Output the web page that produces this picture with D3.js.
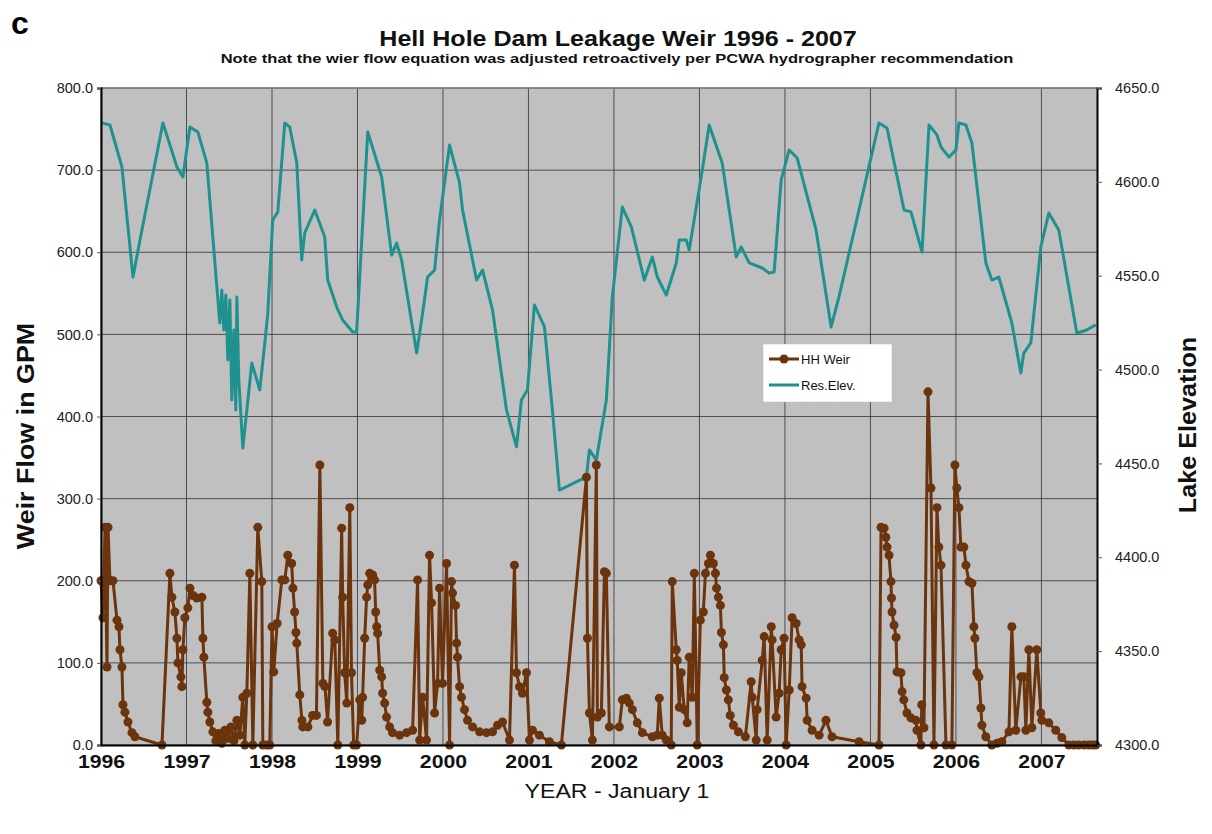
<!DOCTYPE html>
<html>
<head>
<meta charset="utf-8">
<style>
  body { margin: 0; background: #fff; }
  svg text { font-family: Arial, "Liberation Sans", sans-serif; }
</style>
</head>
<body>
<div id="chart"></div>
<script src="https://d3js.org/d3.v7.min.js"></script>
<script>
// year ticks
var years = d3.range(1996, 2008);
var flowTicks = d3.range(0, 801, 100);
var elevTicks = d3.range(4300, 4651, 50);

// HH Weir (GPM) - decimal year / value
var weirYear = [1996.000,1996.023,1996.047,1996.070,1996.082,1996.105,1996.140,1996.187,1996.210,1996.222,1996.245,1996.257,1996.280,1996.315,1996.362,1996.397,1996.713,
  1996.806,1996.829,1996.864,1996.888,1996.900,1996.935,1996.946,1996.958,1996.981,1997.016,1997.040,1997.075,1997.121,1997.180,1997.192,1997.203,1997.238,1997.250,1997.273,1997.308,
  1997.343,1997.378,1997.413,1997.449,1997.484,1997.519,1997.554,1997.589,1997.624,1997.659,1997.682,1997.706,1997.741,1997.776,1997.834,1997.881,1997.893,1997.939,1997.974,
  1998.000,1998.021,1998.060,1998.115,1998.150,1998.185,1998.230,1998.245,1998.265,1998.280,1998.290,1998.325,1998.350,1998.360,1998.420,1998.475,1998.520,1998.560,1998.595,1998.620,1998.650,1998.710,1998.735,1998.770,1998.815,1998.827,1998.850,1998.875,1998.910,1998.930,1998.955,1998.990,
  1999.026,1999.050,1999.060,1999.084,1999.107,1999.120,1999.143,1999.178,1999.200,1999.213,1999.225,1999.236,1999.260,1999.283,1999.294,1999.318,1999.340,1999.376,1999.410,1999.493,1999.575,1999.645,1999.703,1999.727,1999.762,1999.808,1999.843,1999.867,1999.902,1999.937,1999.960,1999.995,
  2000.042,2000.077,2000.100,2000.112,2000.147,2000.159,2000.170,2000.194,2000.217,2000.252,2000.287,2000.346,2000.428,2000.509,2000.580,2000.638,2000.696,2000.778,2000.836,2000.860,2000.895,2000.930,2000.977,
  2001.012,2001.047,2001.128,2001.245,2001.385,2001.678,2001.690,2001.713,2001.748,2001.794,2001.806,2001.853,2001.888,2001.911,2001.946,
  2002.063,2002.098,2002.145,2002.180,2002.215,2002.273,2002.332,2002.449,2002.507,2002.530,2002.565,2002.612,2002.670,2002.682,2002.729,2002.740,2002.764,2002.787,2002.822,2002.857,2002.880,2002.916,2002.940,2002.974,
  2003.010,2003.045,2003.070,2003.105,2003.128,2003.163,2003.187,2003.200,2003.222,2003.245,2003.257,2003.280,2003.290,2003.315,2003.338,2003.360,2003.397,2003.455,2003.537,2003.605,2003.617,2003.664,2003.675,2003.734,2003.757,2003.792,2003.840,2003.850,2003.897,2003.932,2003.956,2003.990,
  2004.014,2004.050,2004.084,2004.131,2004.166,2004.190,2004.200,2004.248,2004.260,2004.318,2004.400,2004.480,2004.551,2004.867,
  2005.100,2005.124,2005.160,2005.180,2005.194,2005.217,2005.240,2005.246,2005.252,2005.276,2005.300,2005.310,2005.357,2005.370,2005.390,2005.427,2005.474,2005.533,2005.544,2005.590,2005.600,2005.626,2005.673,2005.708,2005.743,2005.778,2005.800,2005.825,2005.883,2005.953,2005.988,
  2006.010,2006.035,2006.058,2006.093,2006.117,2006.152,2006.187,2006.210,2006.222,2006.245,2006.270,2006.292,2006.304,2006.350,2006.420,2006.480,2006.537,2006.620,2006.654,2006.700,2006.760,2006.794,2006.818,2006.853,2006.888,2006.946,2006.993,
  2007.005,2007.086,2007.168,2007.238,2007.320,2007.380,2007.437,2007.500,2007.553,2007.600,2007.635];
var weirFlow = [200,155,265,95,265,200,200,152,144,116,95,49,40,28,15,10,0,
  209,180,162,130,100,83,71,116,155,167,191,182,179,180,130,107,52,40,28,16,
  5,14,2,18,8,22,5,30,12,58,0,63,209,0,265,199,0,0,0,
  144,89,148,201,201,231,221,191,162,137,124,61,30,22,22,36,36,341,75,71,28,136,128,0,264,180,88,51,289,88,0,0,
  55,30,58,130,180,195,209,207,201,162,144,136,91,83,63,51,34,22,15,12,15,18,201,6,58,6,231,173,39,75,191,75,
  221,0,199,185,170,124,107,71,58,43,30,22,16,15,16,24,28,6,219,88,71,63,88,
  6,18,12,4,0,326,130,39,6,341,34,39,211,209,22,
  22,55,57,51,43,27,15,10,12,57,12,6,0,199,116,103,46,88,43,27,107,58,209,0,
  152,162,209,221,231,221,209,191,180,170,137,122,82,67,55,36,24,16,10,77,58,6,43,103,132,6,144,128,34,63,116,130,
  0,67,155,148,128,122,71,57,30,18,12,30,10,4,
  0,265,264,253,241,231,199,179,162,146,131,89,88,65,55,39,33,30,18,0,49,21,430,313,0,289,241,219,0,0,341,
  313,289,241,241,219,199,197,144,130,88,83,45,24,10,0,2,4,16,144,18,83,83,18,116,21,116,39,
  30,27,18,9,0,0,0,0,0,0,0];

// Res.Elev. (ft) - decimal year / value
var elevYear = [1996.008,1996.105,1996.245,1996.374,1996.456,1996.724,1996.888,1996.958,1997.040,1997.133,1997.238,1997.355,1997.390,1997.413,1997.437,1997.460,1997.484,1997.507,1997.530,1997.554,1997.577,1997.589,1997.612,1997.659,
  1997.764,1997.857,1997.916,1997.951,1998.009,1998.068,1998.150,1998.208,1998.290,1998.348,1998.383,1998.500,1998.617,1998.652,1998.757,1998.827,1998.944,1998.990,
  1999.050,1999.120,1999.283,1999.400,1999.458,1999.516,1999.692,1999.762,1999.820,1999.902,1999.960,2000.077,2000.194,2000.229,2000.393,2000.463,2000.580,2000.743,2000.860,2000.918,2000.988,
  2001.070,2001.187,2001.280,2001.362,2001.678,2001.713,2001.794,2001.911,2001.981,2002.098,2002.203,2002.355,2002.449,2002.507,2002.612,2002.729,2002.764,2002.846,2002.880,2002.963,
  2003.033,2003.114,2003.266,2003.430,2003.488,2003.582,2003.734,2003.815,2003.874,2003.956,2004.049,2004.143,2004.364,2004.540,2004.632,2004.866,
  2005.100,2005.194,2005.393,2005.474,2005.603,2005.685,2005.778,2005.825,2005.918,2006.000,2006.035,2006.117,2006.187,2006.350,2006.420,2006.502,2006.654,2006.759,2006.794,2006.876,2006.993,
  2007.086,2007.203,2007.414,2007.530,2007.635];
var elevLevel = [4631.4,4630.3,4607.9,4549.3,4569.0,4631.4,4607.9,4602.6,4629.2,4626.6,4610.0,4544.0,4524.8,4542.4,4521.1,4539.7,4505.1,4537.0,4483.8,4521.1,4478.5,4538.7,4494.5,4458.2,
  4503.5,4489.1,4514.2,4530.1,4579.7,4584.0,4631.4,4629.2,4610.0,4558.4,4572.8,4585.0,4570.6,4547.7,4533.3,4526.4,4520.0,4520.0,
  4569.0,4626.6,4602.6,4561.0,4567.4,4558.4,4508.8,4530.1,4549.3,4553.0,4579.7,4619.6,4599.4,4585.0,4547.7,4553.0,4531.7,4478.5,4458.8,4483.8,4489.1,
  4534.4,4522.7,4478.5,4435.8,4442.8,4457.2,4451.8,4483.8,4538.7,4586.6,4576.0,4547.7,4560.0,4549.3,4539.7,4556.8,4569.0,4569.0,4563.7,4586.6,
  4606.3,4630.3,4610.0,4560.0,4565.3,4556.8,4554.1,4551.4,4552.0,4601.0,4617.0,4612.7,4574.4,4522.7,4538.7,4585.0,
  4631.4,4628.7,4585.0,4584.0,4562.6,4630.3,4625.0,4618.6,4613.2,4617.0,4631.4,4630.3,4620.7,4556.8,4547.7,4549.3,4524.8,4498.2,4508.8,4514.2,4565.3,
  4583.4,4574.4,4519.5,4521.1,4523.8];

var W = 1212, H = 834;
var margin = {top: 88, right: 115, bottom: 89, left: 101};
var width = W - margin.left - margin.right,
    height = H - margin.top - margin.bottom;

var brown = "#6b340c", teal = "#1f9290";

var svg = d3.select("#chart").append("svg")
  .attr("width", W).attr("height", H);

var g = svg.append("g")
  .attr("transform", "translate(" + margin.left + "," + margin.top + ")");

var x = d3.scaleLinear().domain([1996, 2007.65]).range([0, width]);
var yL = d3.scaleLinear().domain([0, 800]).range([height, 0]);
var yR = d3.scaleLinear().domain([4300, 4650]).range([height, 0]);

// plot background
g.append("rect")
  .attr("width", width).attr("height", height)
  .style("fill", "#c0c0c0");

// gridlines
g.append("g").selectAll("line").data(flowTicks).enter().append("line")
  .attr("x1", 0).attr("x2", width)
  .attr("y1", function(d) { return yL(d); })
  .attr("y2", function(d) { return yL(d); })
  .style("stroke", "#333").style("stroke-width", 1).style("opacity", 0.8);

g.append("g").selectAll("line").data(years).enter().append("line")
  .attr("y1", 0).attr("y2", height)
  .attr("x1", function(d) { return x(d); })
  .attr("x2", function(d) { return x(d); })
  .style("stroke", "#333").style("stroke-width", 1).style("opacity", 0.8);

// top border
g.append("line").attr("x1", 0).attr("x2", width).attr("y1", 0).attr("y2", 0)
  .style("stroke", "#808080").style("stroke-width", 1.5);

// elevation line
var elevData = elevYear.map(function(d, i) { return {t: d, v: elevLevel[i]}; });
g.append("path")
  .datum(elevData)
  .attr("d", d3.line().x(function(d) { return x(d.t); }).y(function(d) { return yR(d.v); }))
  .style("fill", "none").style("stroke", teal).style("stroke-width", 3)
  .style("stroke-linejoin", "round");

// weir line + markers
var weirData = weirYear.map(function(d, i) { return {t: d, v: weirFlow[i]}; });
g.append("path")
  .datum(weirData)
  .attr("d", d3.line().x(function(d) { return x(d.t); }).y(function(d) { return yL(d.v); }))
  .style("fill", "none").style("stroke", brown).style("stroke-width", 3)
  .style("stroke-linejoin", "round");

g.append("g").selectAll("circle").data(weirData).enter().append("circle")
  .attr("cx", function(d) { return x(d.t); })
  .attr("cy", function(d) { return yL(d.v); })
  .attr("r", 4.5)
  .style("fill", brown);

// axes
var leftAxis = g.append("g")
  .call(d3.axisLeft(yL).tickValues(flowTicks).tickFormat(d3.format(".1f")).tickSize(4).tickPadding(4));
var rightAxis = g.append("g")
  .attr("transform", "translate(" + width + ",0)")
  .call(d3.axisRight(yR).tickValues(elevTicks).tickFormat(d3.format(".1f")).tickSize(5).tickPadding(13));
var bottomAxis = g.append("g")
  .attr("transform", "translate(0," + height + ")")
  .call(d3.axisBottom(x).tickValues(years).tickFormat(d3.format("d")).tickSize(0).tickPadding(10));

[leftAxis, rightAxis, bottomAxis].forEach(function(a) {
  a.select(".domain").style("stroke", "#000").style("stroke-width", 2);
  a.selectAll(".tick line").style("stroke", "#555");
});
leftAxis.selectAll("text").style("font-size", "14.5px").style("fill", "#222");
rightAxis.selectAll("text").style("font-size", "14.5px").style("fill", "#222");
bottomAxis.selectAll("text")
  .style("font-size", "18px").style("font-weight", "bold").style("fill", "#111")
  .attr("transform", "scale(1.18,1)");

// legend
var lg = g.append("g").attr("transform", "translate(" + (763 - margin.left) + "," + (344 - margin.top) + ")");
lg.append("rect").attr("width", 129).attr("height", 58)
  .style("fill", "#fff").style("stroke", "#bbb").style("stroke-width", 0.5);
lg.append("line").attr("x1", 6).attr("x2", 36).attr("y1", 15).attr("y2", 15)
  .style("stroke", brown).style("stroke-width", 3);
lg.append("circle").attr("cx", 21).attr("cy", 15).attr("r", 4.5).style("fill", brown);
lg.append("text").attr("x", 38).attr("y", 20).text("HH Weir")
  .style("font-size", "13px").style("fill", "#111");
lg.append("line").attr("x1", 6).attr("x2", 36).attr("y1", 41).attr("y2", 41)
  .style("stroke", teal).style("stroke-width", 3);
lg.append("text").attr("x", 38).attr("y", 46).text("Res.Elev.")
  .style("font-size", "13px").style("fill", "#111");

// titles
svg.append("text").attr("x", 11).attr("y", 34).text("c")
  .style("font-size", "32px").style("font-weight", "bold");
svg.append("text").attr("transform", "translate(618,46) scale(1.14,1)").attr("text-anchor", "middle")
  .text("Hell Hole Dam Leakage Weir 1996 - 2007")
  .style("font-size", "22px").style("font-weight", "bold").style("fill", "#111");
svg.append("text").attr("transform", "translate(617,63) scale(1.32,1)").attr("text-anchor", "middle")
  .text("Note that the wier flow equation was adjusted retroactively per PCWA hydrographer recommendation")
  .style("font-size", "12.5px").style("font-weight", "bold").style("fill", "#111");

svg.append("text")
  .attr("transform", "translate(34,436) rotate(-90) scale(1.12,1)")
  .attr("text-anchor", "middle")
  .text("Weir Flow in GPM")
  .style("font-size", "24px").style("font-weight", "bold").style("fill", "#111");
svg.append("text")
  .attr("transform", "translate(1196,425) rotate(-90) scale(1.05,1)")
  .attr("text-anchor", "middle")
  .text("Lake Elevation")
  .style("font-size", "24px").style("font-weight", "bold").style("fill", "#111");
svg.append("text").attr("transform", "translate(617,798) scale(1.1,1)").attr("text-anchor", "middle")
  .text("YEAR  - January 1")
  .style("font-size", "21px").style("fill", "#111");
</script>
</body>
</html>
